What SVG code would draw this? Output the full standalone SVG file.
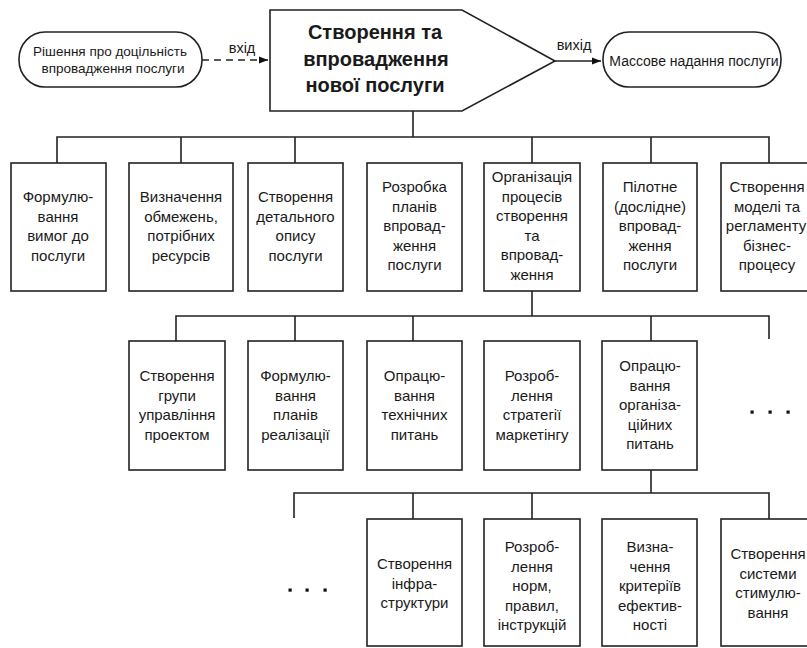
<svg xmlns="http://www.w3.org/2000/svg" width="807" height="648" viewBox="0 0 807 648">
<defs>
<style>
.box{fill:#fff;stroke:#222;stroke-width:1.6}
.ln{fill:none;stroke:#222;stroke-width:1.6}
.t{font-family:"Liberation Sans",Arial,sans-serif;font-size:15px;fill:#1a1a1a;text-anchor:middle}
.s{font-family:"Liberation Sans",Arial,sans-serif;font-size:13.5px;fill:#1a1a1a;text-anchor:middle}
.lb{font-family:"Liberation Sans",Arial,sans-serif;font-size:14.5px;fill:#1a1a1a;text-anchor:middle}
.title{font-family:"Liberation Sans",Arial,sans-serif;font-size:20px;font-weight:bold;fill:#1a1a1a;text-anchor:middle}
.dot{fill:#111}
</style>
<marker id="ah" viewBox="0 0 10 10" refX="10" refY="5" markerWidth="9" markerHeight="9" markerUnits="userSpaceOnUse" orient="auto">
<path d="M0,1 L10,5 L0,9 Z" fill="#111"/>
</marker>
</defs>
<rect width="807" height="648" fill="#fff"/>

<g id="connectors">
<path class="ln" d="M202,60 H268" stroke-dasharray="7,5" marker-end="url(#ah)"/>
<path class="ln" d="M555,61 H601" marker-end="url(#ah)"/>
<path class="ln" d="M413,111 V137 M57,163 V137 H769 V163 M181,137 V163 M295,137 V163 M532,137 V163 M651,137 V163"/>
<path class="ln" d="M532,291 V316 M176,341 V316 H769 V339 M295,316 V341 M413,316 V341 M651,316 V341"/>
<path class="ln" d="M651,470 V493 M294,518 V493 H769 V519 M413,493 V519 M532,493 V519"/>
</g>

<g id="labels">
<text class="lb" x="242" y="53">вхід</text>
<text class="lb" x="574" y="50">вихід</text>
</g>

<g id="start">
<rect class="box" x="19" y="32" width="183" height="55" rx="26" ry="27"/>
<text class="s" x="110" y="56">Рішення про доцільність</text>
<text class="s" x="113" y="73">впровадження послуги</text>
</g>

<g id="main">
<path class="box" d="M270,10 H462 L555,61 L462,111 H270 Z"/>
<text class="title" x="375" y="39">Створення та</text>
<text class="title" x="376" y="66">впровадження</text>
<text class="title" x="375" y="92">нової послуги</text>
</g>

<g id="end">
<rect class="box" x="603" y="32" width="178" height="55" rx="26" ry="27"/>
<text class="s" x="694" y="66" style="font-size:14px">Массове надання послуги</text>
</g>

<g id="r1c1"><rect class="box" x="11" y="163" width="95" height="128"/>
<text class="t" x="58" y="202">Формулю-</text><text class="t" x="58" y="221.5">вання</text><text class="t" x="58" y="241">вимог до</text><text class="t" x="58" y="260.5">послуги</text></g>
<g id="r1c2"><rect class="box" x="129" y="163" width="104" height="128"/>
<text class="t" x="181" y="202">Визначення</text><text class="t" x="181" y="221.5">обмежень,</text><text class="t" x="181" y="241">потрібних</text><text class="t" x="181" y="260.5">ресурсів</text></g>
<g id="r1c3"><rect class="box" x="248" y="163" width="95" height="128"/>
<text class="t" x="295.5" y="202">Створення</text><text class="t" x="295.5" y="221.5">детального</text><text class="t" x="295.5" y="241">опису</text><text class="t" x="295.5" y="260.5">послуги</text></g>
<g id="r1c4"><rect class="box" x="367" y="163" width="95" height="128"/>
<text class="t" x="414.5" y="192">Розробка</text><text class="t" x="414.5" y="211.5">планів</text><text class="t" x="414.5" y="231">впровад-</text><text class="t" x="414.5" y="250.5">ження</text><text class="t" x="414.5" y="270">послуги</text></g>
<g id="r1c5"><rect class="box" x="484" y="163" width="96" height="128"/>
<text class="t" x="532" y="182">Організація</text><text class="t" x="532" y="201.5">процесів</text><text class="t" x="532" y="221">створення</text><text class="t" x="532" y="240.5">та</text><text class="t" x="532" y="260">впровад-</text><text class="t" x="532" y="279.5">ження</text></g>
<g id="r1c6"><rect class="box" x="603" y="163" width="94" height="128"/>
<text class="t" x="650" y="192">Пілотне</text><text class="t" x="650" y="211.5">(дослідне)</text><text class="t" x="650" y="231">впровад-</text><text class="t" x="650" y="250.5">ження</text><text class="t" x="650" y="270">послуги</text></g>
<g id="r1c7"><rect class="box" x="721" y="163" width="96" height="128"/>
<text class="t" x="767" y="192">Створення</text><text class="t" x="767" y="211.5">моделі та</text><text class="t" x="766" y="231">регламенту</text><text class="t" x="767" y="250.5">бізнес-</text><text class="t" x="767" y="270">процесу</text></g>

<g id="r2c1"><rect class="box" x="129" y="341" width="96" height="129"/>
<text class="t" x="177" y="381">Створення</text><text class="t" x="177" y="400.5">групи</text><text class="t" x="177" y="420">управління</text><text class="t" x="177" y="439.5">проектом</text></g>
<g id="r2c2"><rect class="box" x="248" y="341" width="95" height="129"/>
<text class="t" x="295.5" y="381">Формулю-</text><text class="t" x="295.5" y="400.5">вання</text><text class="t" x="295.5" y="420">планів</text><text class="t" x="295.5" y="439.5">реалізації</text></g>
<g id="r2c3"><rect class="box" x="367" y="341" width="95" height="129"/>
<text class="t" x="414.5" y="381">Опрацю-</text><text class="t" x="414.5" y="400.5">вання</text><text class="t" x="414.5" y="420">технічних</text><text class="t" x="414.5" y="439.5">питань</text></g>
<g id="r2c4"><rect class="box" x="484" y="341" width="96" height="129"/>
<text class="t" x="532" y="381">Розроб-</text><text class="t" x="532" y="400.5">лення</text><text class="t" x="532" y="420">стратегії</text><text class="t" x="532" y="439.5">маркетінгу</text></g>
<g id="r2c5"><rect class="box" x="602" y="341" width="95" height="129"/>
<text class="t" x="650" y="371">Опрацю-</text><text class="t" x="650" y="390.5">вання</text><text class="t" x="650" y="410">організа-</text><text class="t" x="650" y="429.5">ційних</text><text class="t" x="650" y="449">питань</text></g>
<g id="r2more"><rect class="dot" x="750.5" y="410.5" width="3.2" height="3.2"/><rect class="dot" x="768.5" y="410.5" width="3.2" height="3.2"/><rect class="dot" x="786.5" y="410.5" width="3.2" height="3.2"/></g>

<g id="r3more"><rect class="dot" x="288.5" y="588.5" width="3.2" height="3.2"/><rect class="dot" x="305.5" y="588.5" width="3.2" height="3.2"/><rect class="dot" x="323.5" y="588.5" width="3.2" height="3.2"/></g>
<g id="r3c1"><rect class="box" x="367" y="519" width="95" height="127"/>
<text class="t" x="414.5" y="569">Створення</text><text class="t" x="414.5" y="588.5">інфра-</text><text class="t" x="414.5" y="608">структури</text></g>
<g id="r3c2"><rect class="box" x="484" y="519" width="96" height="127"/>
<text class="t" x="532" y="552">Розроб-</text><text class="t" x="532" y="571.5">лення</text><text class="t" x="532" y="591">норм,</text><text class="t" x="532" y="610.5">правил,</text><text class="t" x="532" y="630">інструкцій</text></g>
<g id="r3c3"><rect class="box" x="602" y="519" width="95" height="127"/>
<text class="t" x="650" y="552">Визна-</text><text class="t" x="650" y="571.5">чення</text><text class="t" x="650" y="591">критеріїв</text><text class="t" x="650" y="610.5">ефектив-</text><text class="t" x="650" y="630">ності</text></g>
<g id="r3c4"><rect class="box" x="721" y="519" width="96" height="127"/>
<text class="t" x="768" y="559">Створення</text><text class="t" x="768" y="578.5">системи</text><text class="t" x="768" y="598">стимулю-</text><text class="t" x="768" y="617.5">вання</text></g>
</svg>
